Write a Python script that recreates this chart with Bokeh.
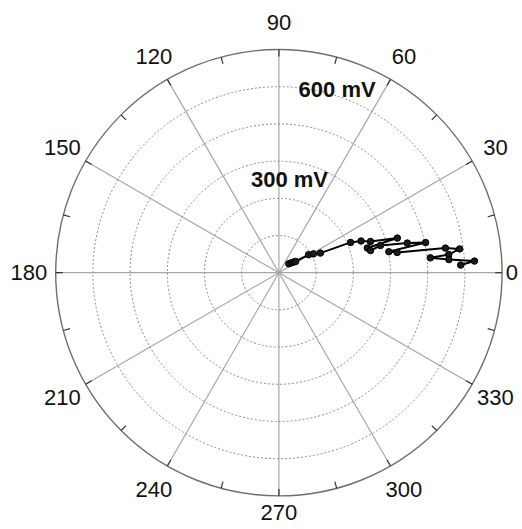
import numpy as np
from bokeh.plotting import figure
from bokeh.models import Range1d
from bokeh.core.properties import value
from bokeh.embed import file_html
from bokeh.resources import INLINE

# ---- data ----
magnitude_mv = [43, 52, 58, 65, 112, 127, 148, 251, 284, 312, 398, 296, 304,
                339, 425, 483, 361, 387, 543, 588, 551, 491, 550, 632, 587]
angle_deg = [42.0, 38.2, 36.2, 34.0, 31.2, 28.6, 25.3, 22.9, 21.1, 18.8, 16.3,
             15.6, 13.6, 15.0, 13.0, 11.6, 10.8, 9.7, 8.4, 7.5, 6.1, 5.6, 4.4,
             3.4, 2.4]
ring_mv = [120, 240, 360, 480, 600]
outer_mv = 720
spoke_angles = [0, 30, 60, 90, 120, 150, 180, 210, 240, 270, 300, 330]
angle_labels = ["0", "30", "60", "90", "120", "150", "180", "210", "240", "270", "300", "330"]
mv_labels = ["300 mV", "600 mV"]
mv_label_values = [300, 600]

# ---- layout ----
W, H = 520, 527
cx_px, cy_px = 278.4, 272.2          # centre in figure pixels (from top-left)
R_px = 223.2
k = outer_mv / R_px                  # mV per pixel

p = figure(width=W, height=H, output_backend="svg", toolbar_location=None,
           x_range=Range1d(-cx_px * k, (W - cx_px) * k),
           y_range=Range1d(-(H - cy_px) * k, cy_px * k),
           min_border=0, border_fill_color="white", background_fill_color="white")
p.axis.visible = False
p.grid.visible = False
p.outline_line_color = None

# spokes
sa = np.radians(spoke_angles)
p.segment(x0=0, y0=0, x1=outer_mv * np.cos(sa), y1=outer_mv * np.sin(sa),
          line_color="#a6a6a6", line_width=1.2)

# dotted rings
p.circle(x=[0] * len(ring_mv), y=[0] * len(ring_mv), radius=ring_mv,
         fill_color=None, line_color="#8c8c8c", line_width=1, line_dash="2 2")

# outer circle
p.circle(x=[0], y=[0], radius=[outer_mv], fill_color=None,
         line_color="#6e6e6e", line_width=1.4)

# ticks every 15 degrees, pointing inward
ta = np.radians(np.arange(0, 360, 15))
tick_len = 7 * k
p.segment(x0=outer_mv * np.cos(ta), y0=outer_mv * np.sin(ta),
          x1=(outer_mv - tick_len) * np.cos(ta), y1=(outer_mv - tick_len) * np.sin(ta),
          line_color="#333333", line_width=1.2)

# angle labels
lab_r = np.full(len(spoke_angles), 250.0 * k)
lab_r[0] = 233.0 * k
lab_r[9] = 240.0 * k
p.text(x=lab_r * np.cos(sa), y=lab_r * np.sin(sa), text=angle_labels,
       text_font=value("Liberation Sans"), text_font_size="22px",
       text_color="#111111", text_align="center", text_baseline="middle")

# magnitude labels
mv_ang = np.radians([83.5, 72.4])
mv_r = np.array(mv_label_values, dtype=float) + np.array([2.0, 21.0])
p.text(x=mv_r * np.cos(mv_ang), y=mv_r * np.sin(mv_ang), text=mv_labels,
       text_font=value("Liberation Sans"), text_font_size="22px",
       text_font_style="bold", text_color="#111111",
       text_align="center", text_baseline="middle")

# data trajectory
th = np.radians(angle_deg)
m = np.array(magnitude_mv, dtype=float)
xs = m * np.cos(th)
ys = m * np.sin(th)
p.line(xs, ys, line_color="black", line_width=2)
p.scatter(xs, ys, marker="circle", size=6.5, fill_color="#1a1a1a",
          line_color="black", line_width=1)

open("out.html", "w").write(file_html(p, INLINE))
